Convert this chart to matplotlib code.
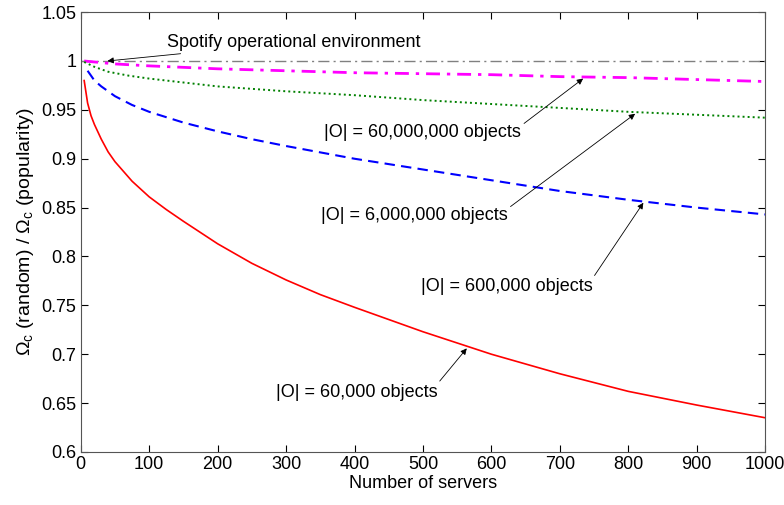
import matplotlib
matplotlib.use("Agg")
import matplotlib.pyplot as plt
from matplotlib.ticker import FuncFormatter

plt.rcParams['font.family'] = ['Liberation Sans', 'DejaVu Sans']
plt.rcParams['mathtext.fontset'] = 'custom'
plt.rcParams['mathtext.rm'] = 'Liberation Sans'
plt.rcParams['mathtext.it'] = 'Liberation Sans:italic'

# ratio of random to popularity-based placement, per catalogue size
red_x = [5, 10, 15, 20, 30, 40, 50, 60, 75, 100, 125, 150, 200, 250, 300, 350, 400,
         500, 600, 700, 800, 900, 1000]
red_y = [0.980, 0.957, 0.944, 0.935, 0.920, 0.907, 0.897, 0.889, 0.877, 0.861, 0.848,
         0.836, 0.813, 0.793, 0.776, 0.761, 0.748, 0.723, 0.700, 0.680, 0.662, 0.648, 0.635]

blue_x = [10, 20, 30, 40, 50, 75, 100, 150, 200, 250, 300, 400, 500, 600, 700, 800, 900, 1000]
blue_y = [0.990, 0.980, 0.974, 0.969, 0.964, 0.955, 0.948, 0.937, 0.928, 0.920, 0.913,
          0.900, 0.889, 0.878, 0.867, 0.858, 0.850, 0.843]

green_x = [5, 20, 40, 70, 100, 150, 200, 300, 400, 500, 600, 700, 800, 900, 1000]
green_y = [0.999, 0.994, 0.989, 0.985, 0.982, 0.978, 0.974, 0.969, 0.965, 0.960, 0.956,
           0.952, 0.948, 0.945, 0.942]

mag_x = [5, 50, 100, 200, 300, 400, 500, 600, 700, 800, 900, 1000]
mag_y = [1.000, 0.997, 0.995, 0.992, 0.990, 0.988, 0.987, 0.986, 0.984, 0.983, 0.981, 0.979]

ref_x = [0, 1000]
ref_y = [1.0, 1.0]

fig = plt.figure(figsize=(7.84, 5.05), dpi=100)
ax = fig.add_axes([0.103, 0.105, 0.873, 0.871])

ax.plot(ref_x, ref_y, color='#808080', lw=1.0, linestyle=(0, (8, 3, 1.5, 3)))
ax.plot(mag_x, mag_y, color='#ff00ff', lw=2.0, linestyle=(0, (5, 2.5, 1.2, 2.5)))
ax.plot(green_x, green_y, color='#008000', lw=1.4, linestyle=(0, (1, 1.6)))
ax.plot(blue_x, blue_y, color='#0000ff', lw=1.5, linestyle=(0, (5, 3)))
ax.plot(red_x, red_y, color='#ff0000', lw=1.2)

ax.set_xlim(0, 1000)
ax.set_ylim(0.6, 1.05)
ax.set_xticks(range(0, 1001, 100))
ax.set_yticks([0.6, 0.65, 0.7, 0.75, 0.8, 0.85, 0.9, 0.95, 1.0, 1.05])
ax.yaxis.set_major_formatter(FuncFormatter(lambda v, p: '%g' % round(v, 2)))
ax.tick_params(direction='in', top=True, right=True, length=5, labelsize=13, pad=3)
for s in ax.spines.values():
    s.set_color('#555555')
    s.set_linewidth(0.8)

ax.set_xlabel('Number of servers', fontsize=13, labelpad=1)
ax.set_ylabel(r'Ω$_{\mathrm{c}}$ (random) / Ω$_{\mathrm{c}}$ (popularity)', fontsize=14, labelpad=4)

arrow = dict(arrowstyle='-|>', color='k', lw=0.6, mutation_scale=9, shrinkA=0, shrinkB=0)
fs = 13
ax.annotate('Spotify operational environment', xy=(39, 1.0), xytext=(126, 1.019),
            fontsize=fs, va='center', ha='left', arrowprops=arrow)
ax.annotate('|O| = 60,000,000 objects', xy=(734, 0.982), xytext=(356, 0.927),
            fontsize=fs, va='center', ha='left', arrowprops=dict(arrow, relpos=(1.0, 0.9)))
ax.annotate('|O| = 6,000,000 objects', xy=(810, 0.946), xytext=(351, 0.842),
            fontsize=fs, va='center', ha='left', arrowprops=dict(arrow, relpos=(1.0, 0.9)))
ax.annotate('|O| = 600,000 objects', xy=(822, 0.855), xytext=(497, 0.769),
            fontsize=fs, va='center', ha='left', arrowprops=dict(arrow, relpos=(1.0, 1.0)))
ax.annotate('|O| = 60,000 objects', xy=(564, 0.706), xytext=(285, 0.661),
            fontsize=fs, va='center', ha='left', arrowprops=dict(arrow, relpos=(1.0, 1.0)))

fig.savefig('out.png', dpi=100)
